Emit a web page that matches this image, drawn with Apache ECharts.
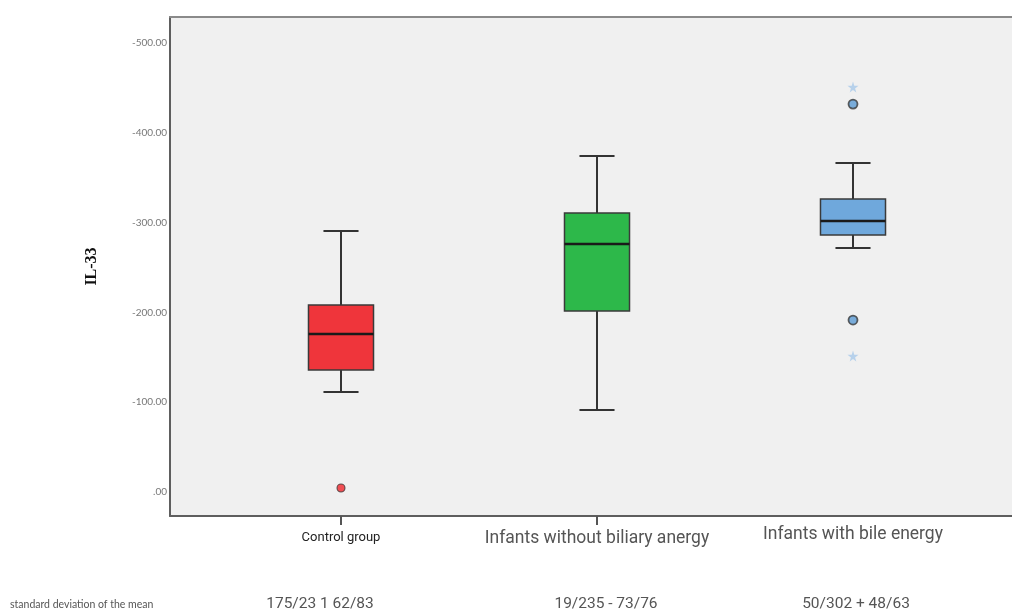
<!DOCTYPE html>
<html>
<head>
<meta charset="utf-8">
<script src="https://cdn.jsdelivr.net/npm/echarts@6/dist/echarts.min.js"></script>
<style>html,body{margin:0;padding:0;background:#fff}#c{width:1012px;height:610px}</style>
</head>
<body>
<div id="c"></div>
<script>
const categories = ['Control group', 'Infants without biliary anergy', 'Infants with bile energy'];
const boxMin = [111.4, 91.3, 271.7];
const boxQ1 = [135.9, 201.6, 286.2];
const boxMedian = [175.9, 276.2, 301.8];
const boxQ3 = [208.2, 310.7, 326.3];
const boxMax = [290.6, 374.2, 366.4];
const boxColors = ['#ef353b', '#2db84a', '#6fa8dc'];
const circleOutliers = [[0, 4.5], [2, 432], [2, 191.5]];
const starOutliers = [[2, 451], [2, 151.4]];
const yTicks = [0, 100, 200, 300, 400, 500];
const footLabel = 'standard deviation of the mean';
const footValues = ['175/23 1 62/83', '19/235 - 73/76', '50/302 + 48/63'];

const chart = echarts.init(document.getElementById('c'));

const boxData = categories.map((c, i) => [i, boxMin[i], boxQ1[i], boxMedian[i], boxQ3[i], boxMax[i]]);

function renderBox(params, api) {
  const i = api.value(0);
  const band = api.size([1, 0])[0];
  const bw = band * 0.254;
  const cw = band * 0.137;
  const pMin = api.coord([i, api.value(1)]);
  const pQ1 = api.coord([i, api.value(2)]);
  const pMed = api.coord([i, api.value(3)]);
  const pQ3 = api.coord([i, api.value(4)]);
  const pMax = api.coord([i, api.value(5)]);
  const x = pMin[0];
  const line = { stroke: '#333', lineWidth: 2 };
  return {
    type: 'group',
    children: [
      { type: 'line', shape: { x1: x, y1: pMax[1], x2: x, y2: pQ3[1] }, style: line },
      { type: 'line', shape: { x1: x, y1: pQ1[1], x2: x, y2: pMin[1] }, style: line },
      { type: 'line', shape: { x1: x - cw / 2, y1: pMax[1], x2: x + cw / 2, y2: pMax[1] }, style: line },
      { type: 'line', shape: { x1: x - cw / 2, y1: pMin[1], x2: x + cw / 2, y2: pMin[1] }, style: line },
      { type: 'rect', shape: { x: x - bw / 2, y: pQ3[1], width: bw, height: pQ1[1] - pQ3[1] },
        style: { fill: boxColors[i], stroke: '#3a3a3a', lineWidth: 1.5 } },
      { type: 'line', shape: { x1: x - bw / 2, y1: pMed[1], x2: x + bw / 2, y2: pMed[1] },
        style: { stroke: '#1a1a1a', lineWidth: 2.5 } }
    ]
  };
}

const starPath = 'path://M50,0 L61,35 L98,35 L68,57 L79,91 L50,70 L21,91 L32,57 L2,35 L39,35 Z';

chart.setOption({
  animation: false,
  backgroundColor: '#ffffff',
  grid: [
    { left: 170, right: 0, top: 17, bottom: 94, show: true, backgroundColor: '#f0f0f0', borderWidth: 0 },
    { left: 213, right: 31, top: 43, bottom: 118 },
    { left: 213, right: 31, top: 17, bottom: 94 }
  ],
  xAxis: [
    { gridIndex: 0, type: 'value', min: 0, max: 1, axisLine: { show: true, lineStyle: { color: '#5e5e5e', width: 2 } },
      axisTick: { show: false }, axisLabel: { show: false }, splitLine: { show: false } },
    { gridIndex: 1, type: 'category', data: categories, show: false },
    { gridIndex: 2, type: 'category', data: categories,
      axisLine: { show: false },
      axisTick: { show: true, alignWithLabel: true, length: 9, interval: function (idx) { return idx < 2; }, lineStyle: { color: '#555', width: 2 } },
      splitLine: { show: false },
      axisLabel: {
        margin: 8,
        formatter: function (v, idx) { return '{s' + idx + '|' + v + '}'; },
        rich: {
          s0: { fontFamily: 'Roboto', fontSize: 13, color: '#222', padding: [7, 0, 0, 0] },
          s1: { fontFamily: 'Roboto', fontSize: 17.5, color: '#555', padding: [6, 0, 0, 0] },
          s2: { fontFamily: 'Roboto', fontSize: 17.5, color: '#555', padding: [2, 0, 0, 0] }
        }
      }
    },
    { gridIndex: 0, type: 'value', min: 0, max: 1, position: 'top',
      axisLine: { show: true, lineStyle: { color: '#8a8a8a', width: 2 } },
      axisTick: { show: false }, axisLabel: { show: false }, splitLine: { show: false } }
  ],
  yAxis: [
    { gridIndex: 0, type: 'value', min: 0, max: 1, axisLine: { show: true, lineStyle: { color: '#5e5e5e', width: 2 } },
      axisTick: { show: false }, axisLabel: { show: false }, splitLine: { show: false },
      name: 'IL-33', nameLocation: 'middle', nameGap: 70,
      nameTextStyle: { fontFamily: 'Liberation Serif', fontWeight: 'bold', fontSize: 16, color: '#111' } },
    { gridIndex: 1, type: 'value', min: yTicks[0], max: yTicks[yTicks.length - 1], interval: 100, offset: 43,
      axisLine: { show: false }, axisTick: { show: false }, splitLine: { show: false },
      axisLabel: { margin: 3, fontFamily: 'Lato', fontSize: 10, color: '#777',
        formatter: function (v) { return v === 0 ? '.00' : '-' + v.toFixed(2); } } },
    { gridIndex: 2, type: 'value', min: 0, max: 1, show: false }
  ],
  series: [
    { type: 'custom', xAxisIndex: 1, yAxisIndex: 1, data: boxData, renderItem: renderBox, z: 3,
      encode: { x: 0, y: [1, 2, 3, 4, 5] } },
    { type: 'scatter', xAxisIndex: 1, yAxisIndex: 1, z: 4, symbol: 'circle',
      data: circleOutliers.map(p => ({ value: p, symbolSize: p[0] === 0 ? 8 : 9,
        itemStyle: { color: p[0] === 0 ? '#f0262c' : '#5b9bd5', borderColor: '#3a3a3a', borderWidth: p[0] === 0 ? 1.1 : 1.8 } })) },
    { type: 'scatter', xAxisIndex: 1, yAxisIndex: 1, z: 4, symbol: starPath, symbolSize: 11,
      itemStyle: { color: '#a9c9ea' }, data: starOutliers }
  ],
  graphic: [
    { type: 'text', left: 10, top: 599, style: { text: footLabel, fontFamily: 'Lato', fontSize: 10.5, fill: '#555' } },
    { type: 'text', x: 320, y: 604, style: { text: footValues[0], fontFamily: 'Roboto', fontSize: 15.5, fill: '#555', align: 'center', verticalAlign: 'middle' } },
    { type: 'text', x: 606, y: 604, style: { text: footValues[1], fontFamily: 'Roboto', fontSize: 15.5, fill: '#555', align: 'center', verticalAlign: 'middle' } },
    { type: 'text', x: 856, y: 604, style: { text: footValues[2], fontFamily: 'Roboto', fontSize: 15.5, fill: '#555', align: 'center', verticalAlign: 'middle' } }
  ]
});
</script>
</body>
</html>
